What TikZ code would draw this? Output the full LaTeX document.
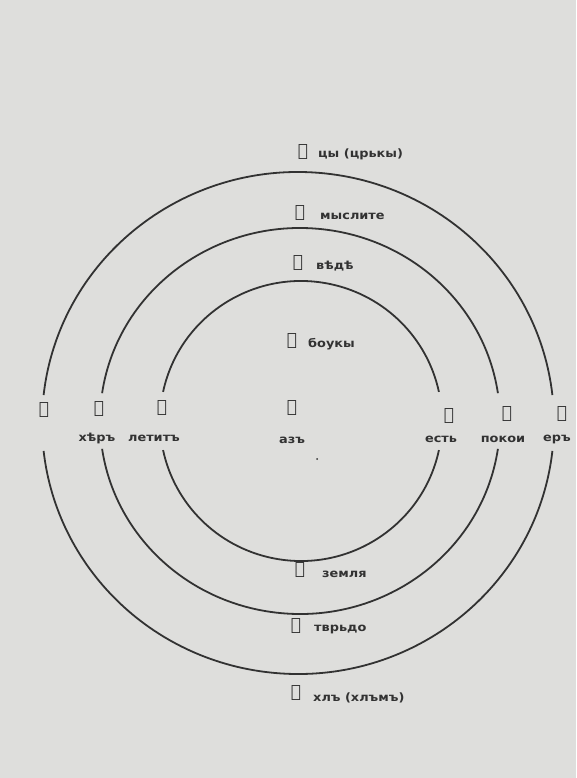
\documentclass[tikz,border=0pt]{standalone}
\usepackage{fontspec}
\newfontfamily\glag{DejaVu Sans}
\newfontfamily\lblfont{DejaVu Sans}[FakeStretch=1.12]
\definecolor{bg}{RGB}{222,222,220}
\definecolor{ink}{RGB}{50,50,50}
\tikzset{
  glyphst/.style={inner sep=0pt, text=ink, font=\glag\fontsize{17}{17}\selectfont},
  lblst/.style={inner sep=0pt, text=ink, font=\lblfont\bfseries\fontsize{11.5}{11.5}\selectfont},
  ringst/.style={draw=ink, line width=1.8pt}
}
\begin{document}
\begin{tikzpicture}[x=1pt,y=-1pt]
\fill[bg] (0,0) rectangle (576,778);
\useasboundingbox (0,0) rectangle (576,778);
% circles (with gaps at left and right)
\draw[ringst] (298,423) ++(6.4:256 and 251) arc[start angle=6.4, end angle=173.6, x radius=256, y radius=251];
\draw[ringst] (298,423) ++(186.4:256 and 251) arc[start angle=186.4, end angle=353.6, x radius=256, y radius=251];
\draw[ringst] (300,421) ++(8.3:200 and 193) arc[start angle=8.3, end angle=171.7, x radius=200, y radius=193];
\draw[ringst] (300,421) ++(188.3:200 and 193) arc[start angle=188.3, end angle=351.7, x radius=200, y radius=193];
\draw[ringst] (301,421) ++(12:141 and 140) arc[start angle=12, end angle=168, x radius=141, y radius=140];
\draw[ringst] (301,421) ++(192:141 and 140) arc[start angle=192, end angle=348, x radius=141, y radius=140];
% top
\node[glyphst] (tsiG) at (303,152) {Ⱌ};
\node[lblst, anchor=west] (tsiT) at (318,154) {цы (црькы)};
\node[glyphst] (mysG) at (300,213) {Ⰿ};
\node[lblst, anchor=west] (mysT) at (320,216) {мыслите};
\node[glyphst] (vedG) at (298,263) {Ⰲ};
\node[lblst, anchor=west] (vedT) at (316,266) {вѣдѣ};
\node[glyphst] (bukG) at (292,341) {Ⰱ};
\node[lblst, anchor=west] (bukT) at (308,344) {боукы};
% centre
\node[glyphst] (azG) at (292,408) {Ⰰ};
\node[lblst] (azT) at (292,440) {азъ};
\fill[ink] (317,459) circle[radius=1];
\coordinate (dot) at (317,459);
% left
\node[glyphst] (rtsG) at (44,410) {Ⱃ};
\node[glyphst] (herG) at (99,409) {Ⱈ};
\node[lblst] (herT) at (97,438) {хѣръ};
\node[glyphst] (ljuG) at (162,408) {Ⰾ};
\node[lblst] (ljuT) at (154,438) {летитъ};
% right
\node[glyphst] (yesG) at (449,416) {Ⰵ};
\node[lblst] (yesT) at (441,439) {есть};
\node[glyphst] (pokG) at (507,414) {Ⱂ};
\node[lblst] (pokT) at (503,439) {покои};
\node[glyphst] (yerG) at (562,414) {Ⱏ};
\node[lblst] (yerT) at (557,439) {еръ};
% bottom
\node[glyphst] (zemG) at (300,570) {Ⰸ};
\node[lblst, anchor=west] (zemT) at (322,574) {земля};
\node[glyphst] (tvrG) at (296,626) {Ⱅ};
\node[lblst, anchor=west] (tvrT) at (314,629) {тврьдо};
\node[glyphst] (hlmG) at (296,693) {Ⱒ};
\node[lblst, anchor=west] (hlmT) at (313,698) {хлъ (хлъмъ)};
\end{tikzpicture}
\end{document}
